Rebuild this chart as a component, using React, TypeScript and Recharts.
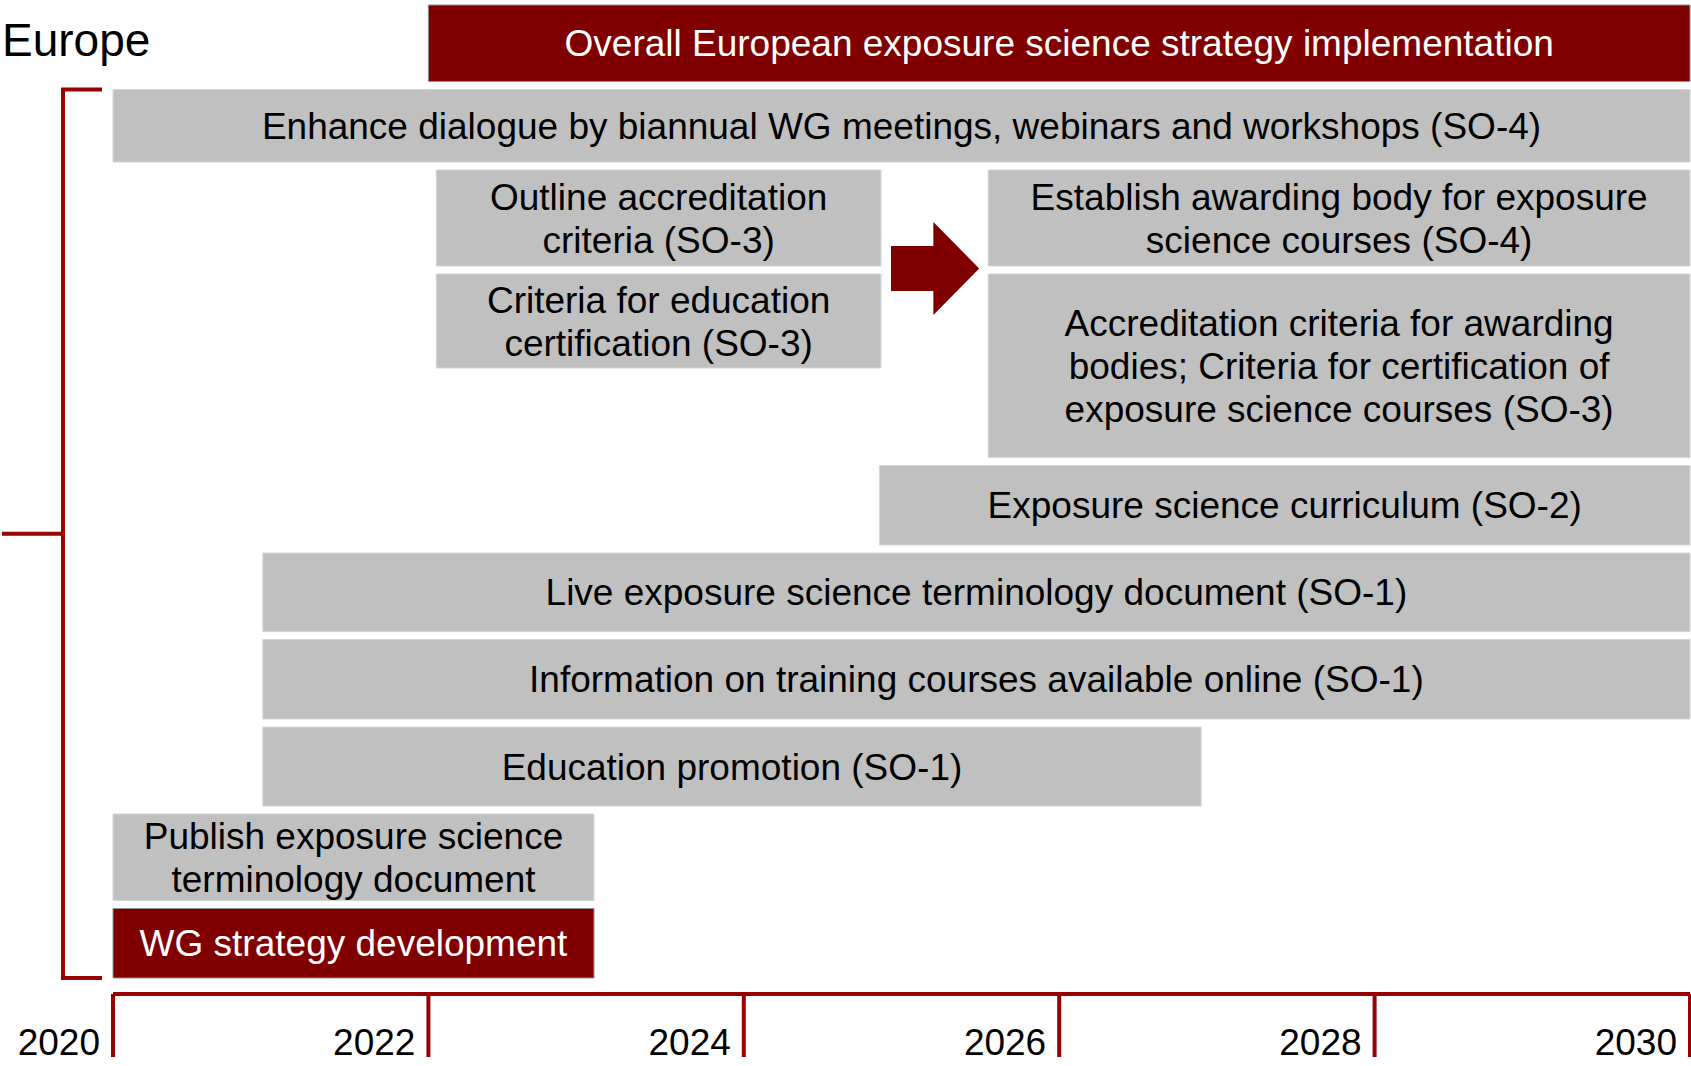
import React from 'react';
import { ComposedChart, XAxis, YAxis, ReferenceArea } from 'recharts';

// timeline data
const yearTicks = [2020, 2022, 2024, 2026, 2028, 2030];

const taskLabels = [
  'Overall European exposure science strategy implementation',
  'Enhance dialogue by biannual WG meetings, webinars and workshops (SO-4)',
  'Outline accreditation\ncriteria (SO-3)',
  'Criteria for education\ncertification (SO-3)',
  'Establish awarding body for exposure\nscience courses (SO-4)',
  'Accreditation criteria for awarding\nbodies; Criteria for certification of\nexposure science courses (SO-3)',
  'Exposure science curriculum (SO-2)',
  'Live exposure science terminology document (SO-1)',
  'Information on training courses available online (SO-1)',
  'Education promotion (SO-1)',
  'Publish exposure science\nterminology document',
  'WG strategy development',
];
const taskStart = [2022, 2020, 2022.05, 2022.05, 2025.55, 2025.55, 2024.86, 2020.95, 2020.95, 2020.95, 2020, 2020];
const taskEnd = [2030, 2030, 2024.87, 2024.87, 2030, 2030, 2030, 2030, 2030, 2026.9, 2023.05, 2023.05];
const taskRow = [0, 1, 2, 3, 2, 3, 5, 6, 7, 8, 9, 10];
const taskRowSpan = [1, 1, 1, 1, 1, 2, 1, 1, 1, 1, 1, 1];
const taskLevel = ['strategy', 'action', 'action', 'action', 'action', 'action', 'action', 'action', 'action', 'action', 'action', 'strategy'];

// layout
const W = 1691;
const H = 1066;
const LEFT = 113;
const RIGHT = 1;
const TOP = 1;
const AXIS_H = 72;
const ROW_HEIGHTS = [84.5, 80.5, 104, 102, 89.5, 87.5, 86.5, 87.5, 87, 94.5, 77.5];
const rowEdges = ROW_HEIGHTS.reduce<number[]>((acc, h) => [...acc, acc[acc.length - 1] + h], [0]);
const Y_MAX = H - TOP - AXIS_H;
const PAD = 4;
const LINE_H = 43;

const FONT = '"Liberation Sans", Arial, Helvetica, sans-serif';
const DARK_RED = '#800000';
const LINE_RED = '#990000';
const GREY = '#c0c0c0';

const xPx = (year: number) => LEFT + ((year - 2020) / 10) * (W - LEFT - RIGHT);
const yPx = (v: number) => TOP + v;

const TaskLabel = (props: any) => {
  const { viewBox, text, color } = props;
  if (!viewBox) return null;
  const lines: string[] = text.split('\n');
  const cx = viewBox.x + viewBox.width / 2;
  const cy = viewBox.y + viewBox.height / 2;
  const first = cy - ((lines.length - 1) * LINE_H) / 2;
  return (
    <g>
      {lines.map((ln, k) => (
        <text
          key={k}
          x={cx}
          y={first + k * LINE_H + 13}
          textAnchor="middle"
          fill={color}
          fontSize={37}
          fontFamily={FONT}
        >
          {ln}
        </text>
      ))}
    </g>
  );
};

const YearTick = (props: any) => {
  const { x, y, payload } = props;
  return (
    <text x={x - 13} y={y - 4} textAnchor="end" fill="#000" fontSize={37} fontFamily={FONT}>
      {payload.value}
    </text>
  );
};

export default function App() {
  const bTop = yPx(rowEdges[1] + PAD);
  const bBottom = yPx(rowEdges[rowEdges.length - 1] - PAD);
  const bMid = (bTop + bBottom) / 2;

  const ax1 = xPx(taskEnd[2]) + 10;
  const ax2 = xPx(taskStart[4]) - 9;
  const aMid = ax1 + (ax2 - ax1) * 0.48;
  const ay = yPx(rowEdges[3]) - 1.5;

  return (
    <div style={{ position: 'absolute', left: 0, top: 0, width: W, height: H, background: '#fff' }}>
      <ComposedChart width={W} height={H} margin={{ top: TOP, right: RIGHT, bottom: 0, left: LEFT }}>
        <XAxis
          type="number"
          dataKey="x"
          domain={[2020, 2030]}
          ticks={yearTicks}
          interval={0}
          allowDataOverflow
          height={AXIS_H}
          axisLine={{ stroke: LINE_RED, strokeWidth: 4 }}
          tickLine={{ stroke: LINE_RED, strokeWidth: 4 }}
          tickSize={63}
          tick={<YearTick />}
        />
        <YAxis type="number" domain={[0, Y_MAX]} reversed hide allowDataOverflow />
        {taskLabels.map((label, i) => {
          const strong = taskLevel[i] === 'strategy';
          return (
            <ReferenceArea
              key={i}
              x1={taskStart[i]}
              x2={taskEnd[i]}
              y1={rowEdges[taskRow[i]] + PAD}
              y2={rowEdges[taskRow[i] + taskRowSpan[i]] - PAD}
              fill={strong ? DARK_RED : GREY}
              fillOpacity={1}
              stroke={strong ? '#8f8f8f' : '#d6d6d6'}
              strokeWidth={1}
              ifOverflow="visible"
              label={<TaskLabel text={label} color={strong ? '#fff' : '#000'} />}
            />
          );
        })}
      </ComposedChart>
      <svg width={W} height={H} style={{ position: 'absolute', left: 0, top: 0, pointerEvents: 'none' }}>
        <text x={2} y={56} fontSize={46} fontFamily={FONT} fill="#000">Europe</text>
        <path
          d={`M ${LEFT - 11} ${bTop} H 63 V ${bBottom} H ${LEFT - 11} M 63 ${bMid} H 2`}
          fill="none"
          stroke={LINE_RED}
          strokeWidth={4}
        />
        <polygon
          points={`${ax1},${ay - 22.5} ${aMid},${ay - 22.5} ${aMid},${ay - 46.5} ${ax2},${ay} ${aMid},${ay + 46.5} ${aMid},${ay + 22.5} ${ax1},${ay + 22.5}`}
          fill={DARK_RED}
        />
      </svg>
    </div>
  );
}
